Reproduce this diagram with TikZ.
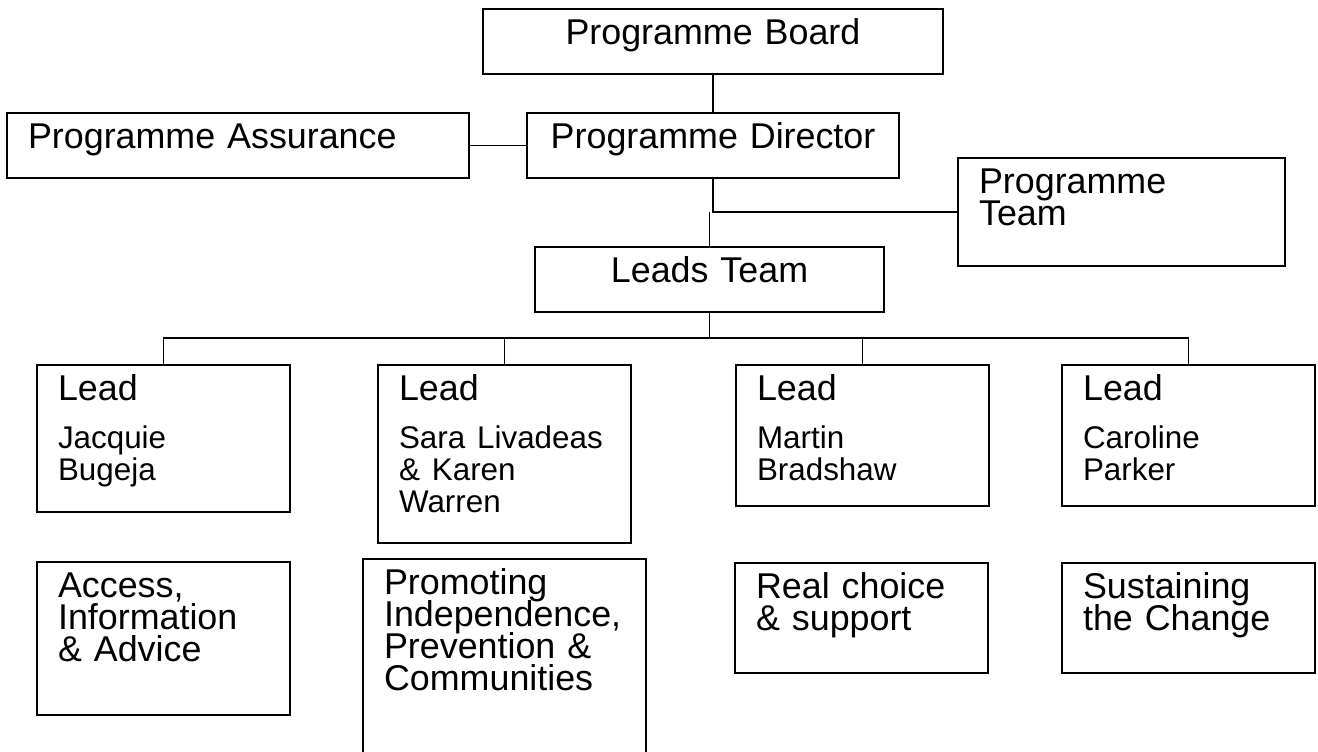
\documentclass[tikz,border=0pt]{standalone}
\usepackage{fontspec}
\setmainfont{Liberation Sans}
\usepackage{tikz}

\newcommand{\bigtext}{\fontsize{16pt}{14.3pt}\selectfont\lineskiplimit=-20pt\relax}
\newcommand{\nametext}{\fontsize{14pt}{14.3pt}\selectfont}

\begin{document}
\begin{tikzpicture}[x=0.4464pt,y=-0.4464pt,
        orgbox/.style={draw,line width=0.8pt,anchor=north west,inner xsep=9.4pt,inner ysep=0pt,
                outer sep=0pt,text height=16pt,font=\bigtext},
        centred/.style={orgbox,align=center,text depth=13pt},
        leftbox/.style={orgbox,align=left},
        link/.style={line width=0.8pt}]

    \useasboundingbox (0,0) rectangle (1318,751);

    % top of the chart
    \node[centred,text width=186.5pt] (board) at (483,9) {Programme Board};
    \node[centred,text width=187.4pt,align=left] (assure) at (7,113) {Programme Assurance};
    \node[centred,text width=147.3pt] (director) at (527,113) {Programme Director};
    \node[leftbox,text width=127.2pt,text depth=32.2pt] (team) at (958,158) {Programme\\Team};
    \node[centred,text width=137pt] (leads) at (535,247) {Leads Team};

    % the four leads
    \node[leftbox,text width=94.1pt,text depth=49.6pt] (lead1) at (37,365)
        {Lead\\[7.1pt]\nametext Jacquie\\Bugeja};
    \node[leftbox,text width=94.1pt,text depth=63.5pt] (lead2) at (378,365)
        {Lead\\[7.1pt]\nametext Sara Livadeas\\\& Karen\\Warren};
    \node[leftbox,text width=94.1pt,text depth=46.9pt] (lead3) at (736,365)
        {Lead\\[7.1pt]\nametext Martin\\Bradshaw};
    \node[leftbox,text width=94.1pt,text depth=46.9pt] (lead4) at (1062,365)
        {Lead\\[7.1pt]\nametext Caroline\\Parker};

    % workstreams
    \node[leftbox,text width=94.1pt,text depth=52.3pt] (access) at (37,562)
        {Access,\\Information\\\& Advice};
    \node[leftbox,text width=107.5pt,text depth=75pt] (promote) at (363,559)
        {Promoting\\Independence,\\Prevention \&\\Communities};
    \node[leftbox,text width=94.1pt,text depth=33.1pt] (choice) at (735,563)
        {Real choice\\\& support};
    \node[leftbox,text width=94.1pt,text depth=33.1pt] (sustain) at (1062,563)
        {Sustaining\\the Change};

    \coordinate (bus) at (0,338);

    \draw[link] (board.south) -- (director.north);
    \draw[link] (assure.east) -- (director.west);
    \draw[link] (director.south) -- (director.south |- team.west) -- (team.west);
    \draw[link] (leads.north) -- (leads.north |- team.west);
    \draw[link] (leads.south) -- (leads.south |- bus);
    \draw[link] (lead1.north) -- (lead1.north |- bus) -- (lead4.north |- bus) -- (lead4.north);
    \draw[link] (lead2.north) -- (lead2.north |- bus);
    \draw[link] (lead3.north) -- (lead3.north |- bus);
\end{tikzpicture}
\end{document}
